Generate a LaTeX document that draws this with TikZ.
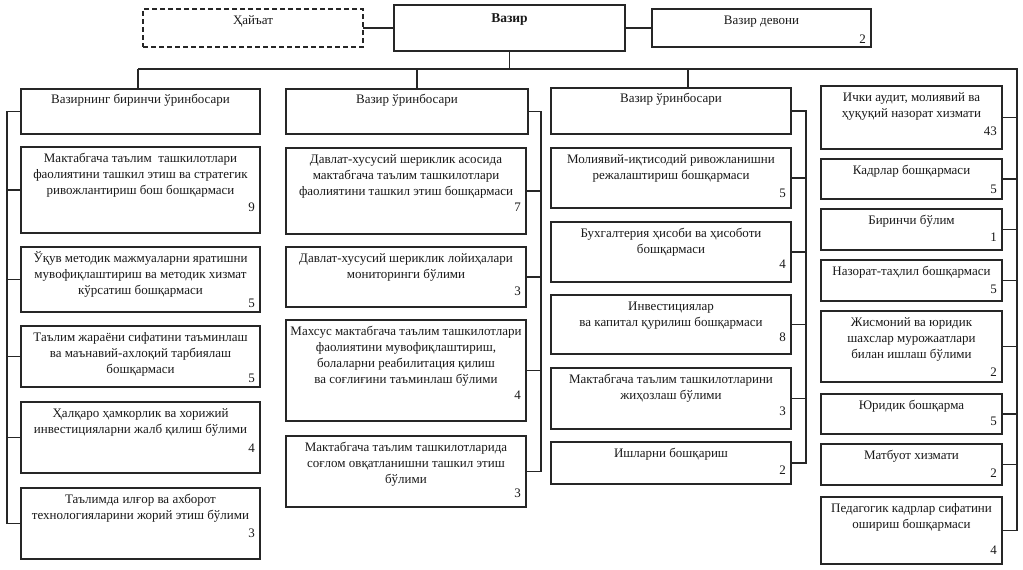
\documentclass[tikz,border=0pt]{standalone}
\usepackage{fontspec}
\setmainfont{Liberation Serif}
\begin{document}
\begin{tikzpicture}[x=1pt,y=-1pt,
  box/.style={draw=black!85, line width=1.2pt, rectangle, inner sep=0pt, outer sep=0pt},
  dbox/.style={box, dashed, dash pattern=on 5pt off 3pt},
  txt/.style={inner sep=0pt, align=center, font=\fontsize{13}{15.8}\selectfont, text=black!90},
  num/.style={inner sep=0pt, font=\fontsize{13}{16}\selectfont, text=black!90},
  ln/.style={draw=black!85, line width=1.3pt}]
\useasboundingbox (0,0) rectangle (1023,570);
\fill[white] (0,0) rectangle (1023,570);
\newcommand\ubox[8]{%
  \node[box, minimum width={#4-#2}, minimum height={#5-#3}] (#1) at ({(#2+#4)/2},{(#3+#5)/2}) {};
  \node[txt, anchor=north] (#1t) at ([yshift=-4.5pt]#1.north) {\strut #6};
  \node[num, anchor=east] (#1n) at ({#4-5},#8) {#7};}
\newcommand\tbox[6]{%
  \node[box, minimum width={#4-#2}, minimum height={#5-#3}] (#1) at ({(#2+#4)/2},{(#3+#5)/2}) {};
  \node[txt, anchor=north] (#1t) at ([yshift=-3.5pt]#1.north) {\strut #6};}
% top row
\node[dbox, minimum width=220, minimum height=38] (hay) at (253,28) {};
\node[txt, anchor=north] (hayt) at ([yshift=-4pt]hay.north) {\strut Ҳайъат};
\node[box, minimum width=231, minimum height=46] (vaz) at (509.5,28) {};
\node[txt, anchor=north, font=\fontsize{13.5}{16}\selectfont\bfseries] (vazt) at ([yshift=-6pt]vaz.north) {\strut Вазир};
\node[box, minimum width=219, minimum height=38] (dev) at (761.5,28) {};
\node[txt, anchor=north] (devt) at ([yshift=-4pt]dev.north) {\strut Вазир девони};
\node[num, anchor=east] (devn) at (866,39) {2};
% column 1
\tbox{c1a}{21}{89}{260}{134}{Вазирнинг биринчи ўринбосари}
\ubox{c1b}{21}{147}{260}{233}{Мактабгача таълим \ ташкилотлари\\фаолиятини ташкил этиш ва стратегик\\ривожлантириш бош бошқармаси}{9}{207}
\ubox{c1c}{21}{247}{260}{312}{Ўқув методик мажмуаларни яратишни\\мувофиқлаштириш ва методик хизмат\\кўрсатиш бошқармаси}{5}{303}
\ubox{c1d}{21}{326}{260}{387}{Таълим жараёни сифатини таъминлаш\\ва маънавий-ахлоқий тарбиялаш\\бошқармаси}{5}{378}
\ubox{c1e}{21}{402}{260}{473}{Ҳалқаро ҳамкорлик ва хорижий\\инвестицияларни жалб қилиш бўлими}{4}{448}
\ubox{c1f}{21}{488}{260}{559}{Таълимда илғор ва ахборот\\технологияларини жорий этиш бўлими}{3}{533}
% column 2
\tbox{c2a}{286}{89}{528}{134}{Вазир ўринбосари}
\ubox{c2b}{286}{148}{526}{234}{Давлат-хусусий шериклик асосида\\мактабгача таълим ташкилотлари\\фаолиятини ташкил этиш бошқармаси}{7}{207}
\ubox{c2c}{286}{247}{526}{307}{Давлат-хусусий шериклик лойиҳалари\\мониторинги бўлими}{3}{291}
\ubox{c2d}{286}{320}{526}{421}{Махсус мактабгача таълим ташкилотлари\\фаолиятини мувофиқлаштириш,\\болаларни реабилитация қилиш\\ва соғлиғини таъминлаш бўлими}{4}{395}
\ubox{c2e}{286}{436}{526}{507}{Мактабгача таълим ташкилотларида\\соғлом овқатланишни ташкил этиш\\бўлими}{3}{493}
% column 3
\tbox{c3a}{551}{88}{791}{134}{Вазир ўринбосари}
\ubox{c3b}{551}{148}{791}{208}{Молиявий-иқтисодий ривожланишни\\режалаштириш бошқармаси}{5}{193}
\ubox{c3c}{551}{222}{791}{282}{Бухгалтерия ҳисоби ва ҳисоботи\\бошқармаси}{4}{264}
\ubox{c3d}{551}{295}{791}{354}{Инвестициялар\\ва капитал қурилиш бошқармаси}{8}{337}
\ubox{c3e}{551}{368}{791}{429}{Мактабгача таълим ташкилотларини\\жиҳозлаш бўлими}{3}{411}
\ubox{c3f}{551}{442}{791}{484}{Ишларни бошқариш}{2}{470}
% column 4
\ubox{c4a}{821}{86}{1002}{149}{Ички аудит, молиявий ва\\ҳуқуқий назорат хизмати}{43}{131}
\ubox{c4b}{821}{159}{1002}{199}{Кадрлар бошқармаси}{5}{189}
\ubox{c4c}{821}{209}{1002}{250}{Биринчи бўлим}{1}{237}
\ubox{c4d}{821}{260}{1002}{301}{Назорат-таҳлил бошқармаси}{5}{289}
\ubox{c4e}{821}{311}{1002}{382}{Жисмоний ва юридик\\шахслар мурожаатлари\\билан ишлаш бўлими}{2}{372}
\ubox{c4f}{821}{394}{1002}{434}{Юридик бошқарма}{5}{421}
\ubox{c4g}{821}{444}{1002}{485}{Матбуот хизмати}{2}{473}
\ubox{c4h}{821}{497}{1002}{564}{Педагогик кадрлар сифатини\\ошириш бошқармаси}{4}{550}
% connectors
\coordinate (busL) at (138,69);
\coordinate (busR) at (1017,69);
\coordinate (d2) at (417,69);
\coordinate (d3) at (688,69);
\coordinate (s1) at (7,0);
\coordinate (s2) at (541,0);
\coordinate (s3) at (806,0);
\draw[ln] (hay.east) -- (vaz.west);
\draw[ln] (vaz.east) -- (dev.west);
\draw[ln] (vaz.south) -- (vaz.south |- busL);
\draw[ln] (busL) -- (busR) -- (busR |- c4h.east) -- (c4h.east);
\draw[ln] (busL) -- (busL |- c1a.north);
\draw[ln] (d2) -- (d2 |- c2a.north);
\draw[ln] (d3) -- (d3 |- c3a.north);
% column 1 spine (left)
\draw[ln] (c1a.west) -- (s1 |- c1a.west) -- (s1 |- c1f.west) -- (c1f.west);
\foreach \n in {c1b,c1c,c1d,c1e} \draw[ln] (\n.west) -- (s1 |- \n.west);
% column 2 spine
\draw[ln] (c2a.east) -- (s2 |- c2a.east) -- (s2 |- c2e.east) -- (c2e.east);
\foreach \n in {c2b,c2c,c2d} \draw[ln] (\n.east) -- (s2 |- \n.east);
% column 3 spine
\draw[ln] (c3a.east) -- (s3 |- c3a.east) -- (s3 |- c3f.east) -- (c3f.east);
\foreach \n in {c3b,c3c,c3d,c3e} \draw[ln] (\n.east) -- (s3 |- \n.east);
% column 4 ticks
\foreach \n in {c4a,c4b,c4c,c4d,c4e,c4f,c4g} \draw[ln] (\n.east) -- (busR |- \n.east);
\end{tikzpicture}
\end{document}
